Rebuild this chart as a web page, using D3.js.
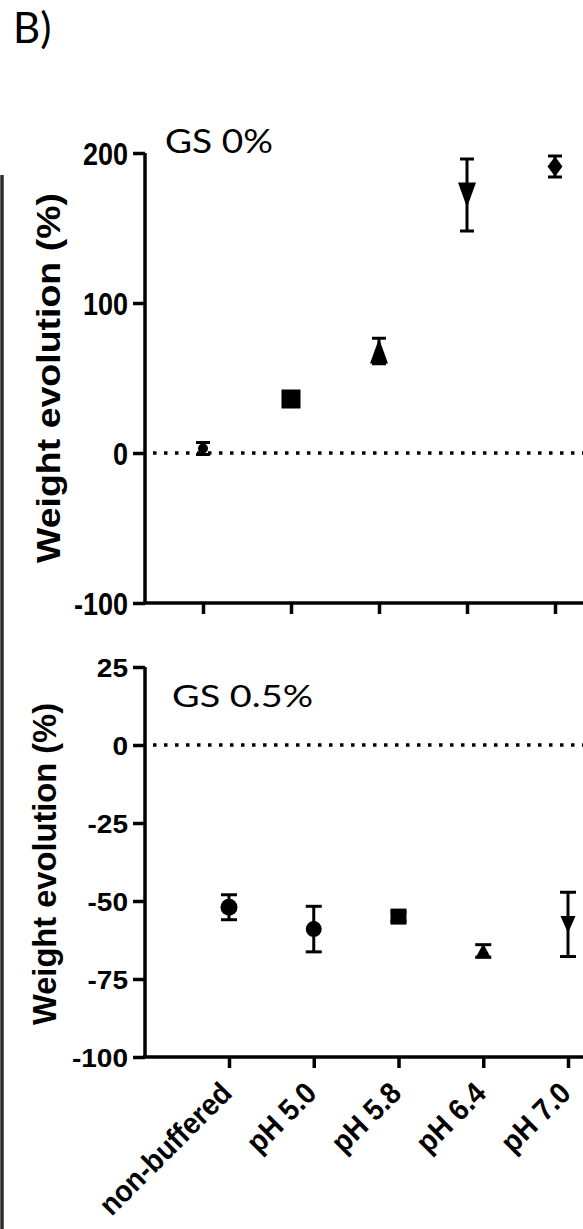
<!DOCTYPE html>
<html>
<head>
<meta charset="utf-8">
<script src="https://cdn.jsdelivr.net/npm/d3@7"></script>
<style>
body { margin: 0; background: #fff; }
svg { display: block; }
</style>
</head>
<body>
<svg width="583" height="1229"></svg>
<script>
// категории (ось X)
const categories = ["non-buffered", "pH 5.0", "pH 5.8", "pH 6.4", "pH 7.0"];

// GS 0% : средние и ошибки
const gs0Mean = [3, 36, 68, 172, 191];
const gs0Err = [4, 3, 8.5, 24, 7];
const gs0Ticks = [-100, 0, 100, 200];

// GS 0.5% : средние и ошибки
const gs05Mean = [-52, -59, -55, -66, -57.5];
const gs05Err = [4, 7.3, 1.5, 2, 10.3];
const gs05Ticks = [-100, -75, -50, -25, 0, 25];

const svg = d3.select("svg");
const width = +svg.attr("width");
const height = +svg.attr("height");

svg.append("rect").attr("width", width).attr("height", height).attr("fill", "#fff");

// буква рисунка
svg.append("text")
    .attr("x", 13).attr("y", 43)
    .attr("font-family", "Lato, 'Open Sans', sans-serif")
    .attr("font-size", 42)
    .text("B)");

// тёмная полоса по левому краю
svg.append("line")
    .attr("x1", 2).attr("x2", 2)
    .attr("y1", 175).attr("y2", height)
    .attr("stroke", "#2e2e2e").attr("stroke-width", 3.5);

// формы маркеров
const circle = r => d3.symbol(d3.symbolCircle, Math.PI * r * r)();
const square = s => d3.symbol(d3.symbolSquare, s * s)();
const triUp = (w, h) => `M0,${-h / 2}L${w / 2},${h / 2}L${-w / 2},${h / 2}Z`;
const triDown = (w, h) => `M0,${h / 2}L${w / 2},${-h / 2}L${-w / 2},${-h / 2}Z`;
const diamond = (w, h) => `M0,${-h / 2}L${w / 2},0L0,${h / 2}L${-w / 2},0Z`;

// узкий жирный шрифт: меряем ширину при base, рисуем выше при той же ширине
function condensed(sel, base, tall) {
    sel.attr("font-family", "'Liberation Sans', Arial, sans-serif")
        .attr("font-weight", "bold")
        .attr("fill", "#000")
        .attr("font-size", base)
        .each(function() {
            const w = this.getComputedTextLength();
            d3.select(this)
                .attr("font-size", tall)
                .attr("textLength", w)
                .attr("lengthAdjust", "spacingAndGlyphs");
        });
}

function drawPanel(p) {
    const g = svg.append("g");

    const x = d3.scalePoint().domain(categories).range(p.xRange);
    const y = d3.scaleLinear().domain(p.yDomain).range(p.yRange);

    // пунктир на нуле
    g.append("line")
        .attr("x1", p.axisX + 8).attr("x2", width)
        .attr("y1", y(0)).attr("y2", y(0))
        .attr("stroke", "#000")
        .attr("stroke-width", 3.5)
        .attr("stroke-dasharray", "3.5,7.5");

    // ось Y
    const yAxis = g.append("g")
        .attr("transform", `translate(${p.axisX},0)`)
        .call(d3.axisLeft(y).tickValues(p.ticks).tickSize(12).tickPadding(5)
            .tickFormat(d => String(d)));
    yAxis.select(".domain").remove();
    yAxis.append("line")
        .attr("x1", 0).attr("x2", 0)
        .attr("y1", p.yRange[1]).attr("y2", p.yRange[0])
        .attr("stroke", "#000").attr("stroke-width", 3.5);
    yAxis.selectAll(".tick line").attr("stroke-width", 3.5);
    yAxis.selectAll(".tick text").attr("dy", "0.36em").call(condensed, p.tickBase, p.tickTall);

    // ось X
    const xAxis = g.append("g")
        .attr("transform", `translate(0,${p.yRange[0]})`)
        .call(d3.axisBottom(x).tickSize(11).tickSizeOuter(0));
    xAxis.select(".domain").remove();
    xAxis.append("line")
        .attr("x1", p.axisX - 2).attr("x2", width)
        .attr("y1", 0).attr("y2", 0)
        .attr("stroke", "#000").attr("stroke-width", 3.5);
    xAxis.selectAll(".tick line").attr("stroke-width", 3.5);
    if (p.showLabels) {
        xAxis.selectAll(".tick text")
            .attr("x", 0).attr("y", 0).attr("dy", 0)
            .attr("transform", "translate(4,38) rotate(-45)")
            .attr("text-anchor", "end")
            .call(condensed, 28, 30);
    } else {
        xAxis.selectAll(".tick text").remove();
    }

    // подпись оси Y
    g.append("text")
        .attr("transform", `translate(${p.labelX},${p.labelY}) rotate(-90)`)
        .attr("text-anchor", "middle")
        .attr("font-family", "'Liberation Sans', Arial, sans-serif")
        .attr("font-weight", "bold")
        .attr("font-size", p.labelFont)
        .attr("textLength", p.labelLength)
        .attr("lengthAdjust", "spacingAndGlyphs")
        .text("Weight evolution (%)");

    // заголовок панели
    g.append("text")
        .attr("x", p.titleX).attr("y", p.titleY)
        .attr("font-family", "Lato, 'Open Sans', sans-serif")
        .attr("font-size", p.titleFont)
        .attr("textLength", p.titleLength)
        .attr("lengthAdjust", "spacingAndGlyphs")
        .text(p.title);

    const data = categories.map((c, i) => ({c, mean: p.mean[i], err: p.err[i], shape: p.shapes[i]}));

    // усы ошибок
    const eb = g.selectAll(".eb").data(data).join("g").attr("class", "eb")
        .attr("stroke", "#000").attr("stroke-width", 3);
    eb.append("line")
        .attr("x1", d => x(d.c)).attr("x2", d => x(d.c))
        .attr("y1", d => y(d.mean + d.err)).attr("y2", d => y(d.mean - d.err));
    eb.append("line")
        .attr("x1", d => x(d.c) - p.cap / 2).attr("x2", d => x(d.c) + p.cap / 2)
        .attr("y1", d => y(d.mean + d.err)).attr("y2", d => y(d.mean + d.err));
    eb.append("line")
        .attr("x1", d => x(d.c) - p.cap / 2).attr("x2", d => x(d.c) + p.cap / 2)
        .attr("y1", d => y(d.mean - d.err)).attr("y2", d => y(d.mean - d.err));

    // маркеры
    g.selectAll(".pt").data(data).join("path").attr("class", "pt")
        .attr("transform", d => `translate(${x(d.c)},${y(d.mean)})`)
        .attr("d", d => d.shape)
        .attr("fill", "#000");
}

drawPanel({
    xRange: [203, 555], yDomain: [-100, 200], yRange: [603, 153], axisX: 145,
    ticks: gs0Ticks, tickBase: 27, tickTall: 31,
    mean: gs0Mean, err: gs0Err, cap: 14,
    shapes: [circle(5), square(19), triUp(18, 25), triDown(18, 25), diamond(15, 20)],
    showLabels: false,
    labelX: 60, labelY: 378, labelFont: 34, labelLength: 370,
    title: "GS 0%", titleX: 165, titleY: 153, titleFont: 32, titleLength: 108
});

drawPanel({
    xRange: [229, 568], yDomain: [-100, 25], yRange: [1057, 667], axisX: 145,
    ticks: gs05Ticks, tickBase: 28, tickTall: 26,
    mean: gs05Mean, err: gs05Err, cap: 16,
    shapes: [circle(8.5), circle(8), square(16), triUp(16, 15), triDown(15, 17)],
    showLabels: true,
    labelX: 56, labelY: 864, labelFont: 33, labelLength: 322,
    title: "GS 0.5%", titleX: 172, titleY: 707, titleFont: 31, titleLength: 141
});
</script>
</body>
</html>
